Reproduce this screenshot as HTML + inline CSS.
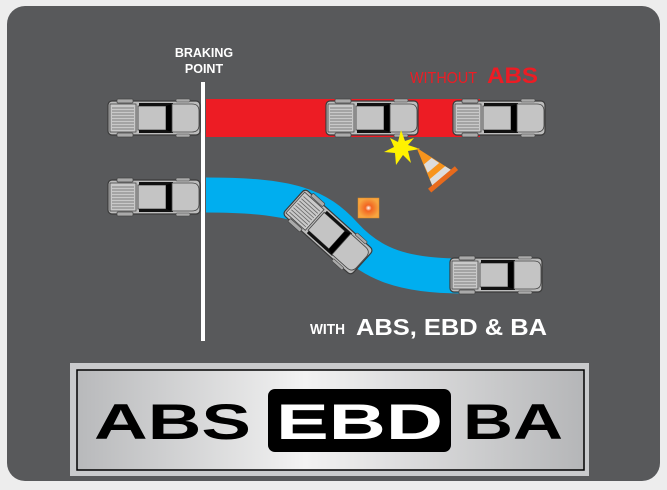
<!DOCTYPE html>
<html><head><meta charset="utf-8"><style>
html,body{margin:0;padding:0;background:#ededed;}
svg{display:block;}
</style></head><body>
<svg width="667" height="490" viewBox="0 0 667 490" xmlns="http://www.w3.org/2000/svg" font-family="Liberation Sans, sans-serif">
<defs>
<g id="truck">
  <rect x="0" y="2" width="92" height="34" rx="4" fill="#bdbdbd" stroke="#3a3a3a" stroke-width="1.2"/>
  <rect x="2" y="5" width="26" height="28" fill="#c9c9c9" stroke="#444" stroke-width="0.8"/>
  <g stroke="#666" stroke-width="0.8">
    <line x1="4" y1="9" x2="26" y2="9"/><line x1="4" y1="12" x2="26" y2="12"/>
    <line x1="4" y1="15" x2="26" y2="15"/><line x1="4" y1="18" x2="26" y2="18"/>
    <line x1="4" y1="21" x2="26" y2="21"/><line x1="4" y1="24" x2="26" y2="24"/>
    <line x1="4" y1="27" x2="26" y2="27"/><line x1="4" y1="30" x2="26" y2="30"/>
  </g>
  <rect x="9" y="0" width="16" height="4" rx="1" fill="#aaa" stroke="#444" stroke-width="0.7"/>
  <rect x="9" y="34" width="16" height="4" rx="1" fill="#aaa" stroke="#444" stroke-width="0.7"/>
  <rect x="30" y="7" width="28" height="24" fill="#c4c4c4" stroke="#444" stroke-width="0.8"/>
  <rect x="31" y="4" width="34" height="3" fill="#111"/>
  <rect x="31" y="31" width="34" height="3" fill="#111"/>
  <polygon points="58,7 64,5 64,33 58,31" fill="#000"/>
  <path d="M64,5 L84,5 Q91,5 91,12 L91,26 Q91,33 84,33 L64,33 Z" fill="#c4c4c4" stroke="#444" stroke-width="0.8"/>
  <rect x="68" y="0" width="14" height="3" rx="1" fill="#aaa" stroke="#444" stroke-width="0.6"/>
  <rect x="68" y="35" width="14" height="3" rx="1" fill="#aaa" stroke="#444" stroke-width="0.6"/>
</g>
<linearGradient id="silver" x1="0" x2="1" y1="0" y2="0">
  <stop offset="0" stop-color="#b8b9bb"/><stop offset="0.45" stop-color="#f2f2f2"/><stop offset="1" stop-color="#b5b6b8"/>
</linearGradient>
<radialGradient id="cone2"><stop offset="0" stop-color="#fff"/><stop offset="0.3" stop-color="#f26522"/><stop offset="1" stop-color="#f7a540"/></radialGradient>
</defs>
<rect x="0" y="0" width="667" height="490" fill="#ededed"/>
<rect x="7" y="6" width="653" height="475" rx="18" fill="#58595b"/>

<rect x="206" y="99" width="274" height="38" fill="#ed1c24"/>
<path d="M206,195 C290,195 318,205 345,235 S405,276 462,276" fill="none" stroke="#00aeef" stroke-width="35"/>
<rect x="201" y="82" width="4" height="259" fill="#fff"/>

<use href="#truck" x="108" y="99"/>
<use href="#truck" x="326" y="99"/>
<use href="#truck" x="453" y="99"/>
<use href="#truck" x="108" y="178"/>
<use href="#truck" transform="translate(328,232) rotate(42) translate(-46,-19)"/>
<use href="#truck" x="450" y="256"/>

<polygon points="401,130 405,141 414,138 408,145 420,149 408,151 411,163 403,155 396,165 395,153 384,152 394,147 390,138 398,142" fill="#fff200"/>
<g transform="translate(431,165) rotate(-40) scale(1.25)">
  <polygon points="0,-18 10,14 -10,14" fill="#f7941d"/>
  <polygon points="-4,-4 4,-4 6,3 -6,3" fill="#ddd"/>
  <polygon points="-8,8 8,8 10,14 -10,14" fill="#ddd"/>
  <rect x="-14" y="13" width="28" height="4" fill="#e86a1c"/>
</g>
<rect x="358" y="198" width="21" height="20" fill="url(#cone2)" stroke="#e0891f" stroke-width="0.5"/>

<text x="204" y="57" font-size="12.5" font-weight="bold" fill="#fff" text-anchor="middle">BRAKING</text>
<text x="204" y="73" font-size="12.5" font-weight="bold" fill="#fff" text-anchor="middle">POINT</text>
<text x="410" y="83" font-size="16" fill="#ed1c24" textLength="67" lengthAdjust="spacingAndGlyphs">WITHOUT</text>
<text x="487" y="83" font-size="22" font-weight="bold" fill="#ed1c24" textLength="51" lengthAdjust="spacingAndGlyphs">ABS</text>
<text x="310" y="334" font-size="15" font-weight="bold" fill="#fff" textLength="35" lengthAdjust="spacingAndGlyphs">WITH</text>
<text x="356" y="335" font-size="23" font-weight="bold" fill="#fff" textLength="191" lengthAdjust="spacingAndGlyphs">ABS, EBD &amp; BA</text>

<rect x="70" y="363" width="519" height="113" fill="#c9cacc"/>
<rect x="77" y="370" width="507" height="100" fill="url(#silver)" stroke="#000" stroke-width="1.5"/>
<rect x="268" y="389" width="183" height="63" rx="7" fill="#000"/>
<text x="94" y="439" font-size="50" font-weight="bold" fill="#000" textLength="157" lengthAdjust="spacingAndGlyphs">ABS</text>
<text x="276" y="439" font-size="50" font-weight="bold" fill="#fff" textLength="167" lengthAdjust="spacingAndGlyphs">EBD</text>
<text x="463" y="439" font-size="50" font-weight="bold" fill="#000" textLength="100" lengthAdjust="spacingAndGlyphs">BA</text>
</svg>
</body></html>
